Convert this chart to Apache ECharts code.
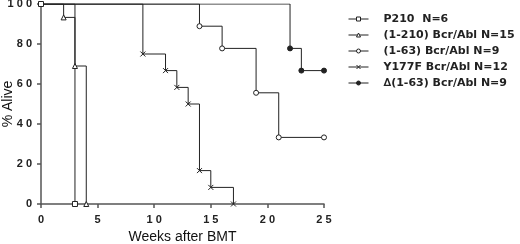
<!DOCTYPE html>
<html>
<head>
<meta charset="utf-8">
<script src="https://cdn.jsdelivr.net/npm/echarts@6/dist/echarts.min.js"></script>
<style>
  html, body { margin: 0; padding: 0; background: #fff; }
  #chart { width: 520px; height: 244px; }
</style>
</head>
<body>
<div id="chart"></div>
<script>
// survival curves, [week, % alive]
const p210 = [[0, 100], [3, 0]]
const bcr1210 = [[0, 100], [2, 93.3], [3, 69], [4, 0]]
const bcr163 = [[0, 100], [14, 88.9], [16, 77.8], [19, 55.6], [21, 33.3], [25, 33.3]]
const y177f = [[0, 100], [9, 75], [11, 66.7], [12, 58.3], [13, 50], [14, 16.7], [15, 8.3], [17, 0]]
const delta163 = [[0, 100], [22, 77.8], [23, 66.7], [25, 66.7]]

const names = ['P210  N=6', '(1-210) Bcr/Abl N=15', '(1-63) Bcr/Abl N=9', 'Y177F Bcr/Abl N=12', '\u2206(1-63) Bcr/Abl N=9']

const ink = '#222'
const axisColor = '#555'
const spaced = v => String(v).split('').join(' ')

function makeSeries(name, data, symbol, fill, hideFirst) {
  return {
    name: name,
    type: 'line',
    step: 'end',
    data: data.map((d, i) => (hideFirst && i === 0) ? { value: d, symbol: 'none' } : d),
    symbol: symbol,
    symbolSize: 5,
    showAllSymbol: true,
    lineStyle: { color: ink, width: 1 },
    itemStyle: { color: fill, borderColor: ink, borderWidth: 1 },
    emphasis: { disabled: true },
    animation: false
  }
}

const chart = echarts.init(document.getElementById('chart'))
chart.setOption({
  backgroundColor: '#fff',
  grid: { left: 41, top: 4, width: 283, height: 200, containLabel: false, outerBoundsMode: 'none' },
  legend: {
    orient: 'vertical',
    left: 343,
    top: 8,
    itemWidth: 20,
    itemHeight: 5,
    itemGap: 4,
    lineStyle: { width: 1 },
    itemStyle: { borderWidth: 1 },
    textStyle: {
      fontFamily: 'DejaVu Sans',
      fontWeight: 'bold',
      fontSize: 11,
      lineHeight: 12,
      color: ink,
      padding: [0, 0, 0, 10]
    },
    data: names
  },
  xAxis: {
    type: 'value',
    min: 0,
    max: 25,
    interval: 5,
    splitLine: { show: false },
    axisLine: { show: true, lineStyle: { color: axisColor, width: 1.5 } },
    axisTick: { show: true, length: 4, lineStyle: { color: axisColor, width: 1.5 } },
    axisLabel: {
      margin: 10,
      formatter: spaced,
      fontFamily: 'Liberation Sans, Arial',
      fontWeight: 'bold',
      fontSize: 11,
      color: ink
    },
    name: 'Weeks after BMT',
    nameLocation: 'middle',
    nameGap: 26,
    nameMoveOverlap: false,
    nameTextStyle: { fontFamily: 'Liberation Sans, Arial', fontSize: 14, color: '#111' }
  },
  yAxis: {
    type: 'value',
    min: 0,
    max: 100,
    interval: 20,
    splitLine: { show: false },
    axisLine: { show: true, lineStyle: { color: axisColor, width: 1.5 } },
    axisTick: { show: true, length: 4, lineStyle: { color: axisColor, width: 1.5 } },
    axisLabel: {
      margin: 9,
      formatter: spaced,
      fontFamily: 'Liberation Sans, Arial',
      fontWeight: 'bold',
      fontSize: 11,
      color: ink
    },
    name: '% Alive',
    nameLocation: 'middle',
    nameGap: 26,
    nameMoveOverlap: false,
    nameTextStyle: { fontFamily: 'Liberation Sans, Arial', fontSize: 14, color: '#111' }
  },
  series: [
    makeSeries(names[0], p210, 'rect', '#fff', false),
    makeSeries(names[1], bcr1210, 'triangle', '#fff', true),
    makeSeries(names[2], bcr163, 'circle', '#fff', true),
    makeSeries(names[3], y177f, 'path://M0,0L10,10M10,0L0,10', ink, true),
    makeSeries(names[4], delta163, 'circle', ink, true)
  ]
})
</script>
</body>
</html>
